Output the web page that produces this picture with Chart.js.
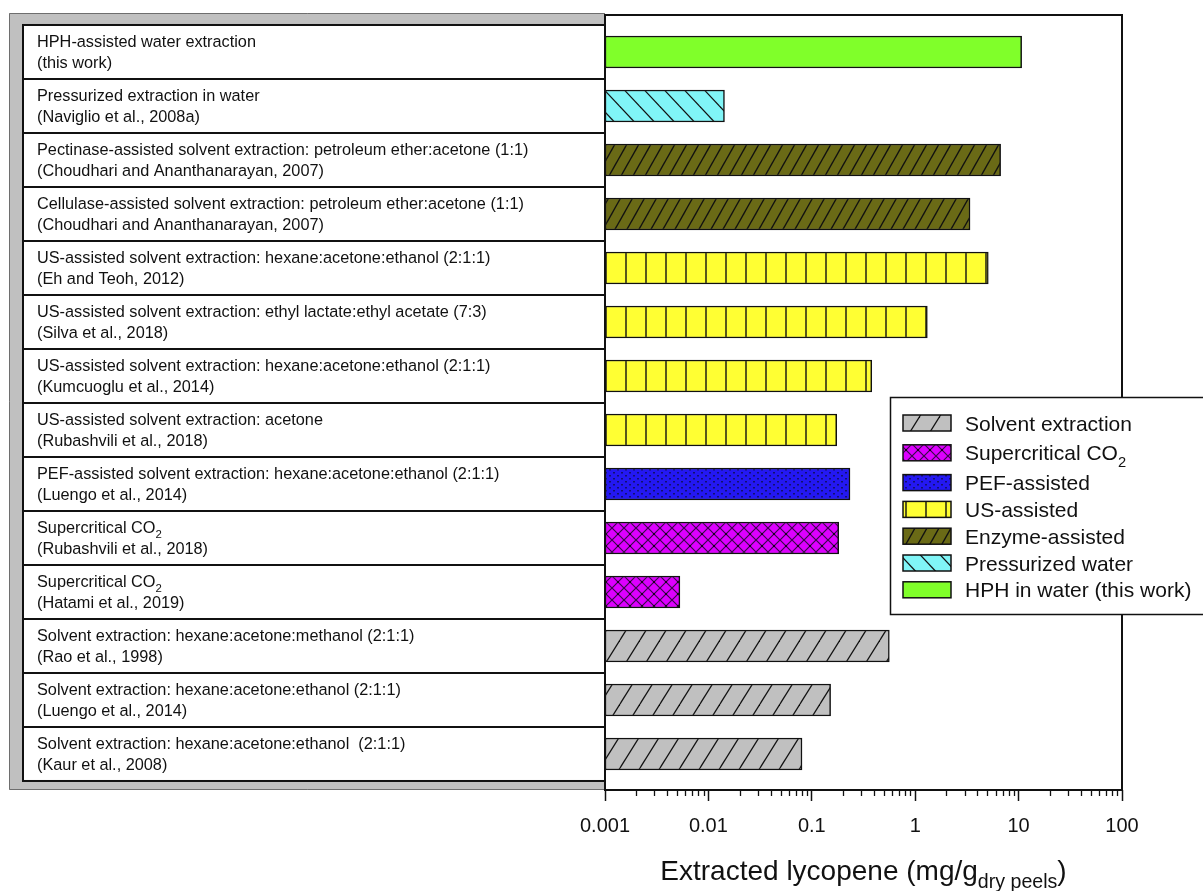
<!DOCTYPE html>
<html>
<head>
<meta charset="utf-8">
<script src="https://cdn.jsdelivr.net/npm/chart.js@4/dist/chart.umd.min.js"></script>
<style>
  html, body { margin: 0; padding: 0; background: #fff; }
  #wrap { width: 1203px; height: 891px; }
</style>
</head>
<body>
<div id="wrap"><canvas id="c" width="1203" height="891"></canvas></div>
<script>
// ---- data ----------------------------------------------------------------
const methods = [
  'HPH-assisted water extraction',
  'Pressurized extraction in water',
  'Pectinase-assisted solvent extraction: petroleum ether:acetone (1:1)',
  'Cellulase-assisted solvent extraction: petroleum ether:acetone (1:1)',
  'US-assisted solvent extraction: hexane:acetone:ethanol (2:1:1)',
  'US-assisted solvent extraction: ethyl lactate:ethyl acetate (7:3)',
  'US-assisted solvent extraction: hexane:acetone:ethanol (2:1:1)',
  'US-assisted solvent extraction: acetone',
  'PEF-assisted solvent extraction: hexane:acetone:ethanol (2:1:1)',
  'Supercritical CO_{2}',
  'Supercritical CO_{2}',
  'Solvent extraction: hexane:acetone:methanol (2:1:1)',
  'Solvent extraction: hexane:acetone:ethanol (2:1:1)',
  'Solvent extraction: hexane:acetone:ethanol  (2:1:1)'
];
const references = [
  '(this work)',
  '(Naviglio et al., 2008a)',
  '(Choudhari and Ananthanarayan, 2007)',
  '(Choudhari and Ananthanarayan, 2007)',
  '(Eh and Teoh, 2012)',
  '(Silva et al., 2018)',
  '(Kumcuoglu et al., 2014)',
  '(Rubashvili et al., 2018)',
  '(Luengo et al., 2014)',
  '(Rubashvili et al., 2018)',
  '(Hatami et al., 2019)',
  '(Rao et al., 1998)',
  '(Luengo et al., 2014)',
  '(Kaur et al., 2008)'
];
// extracted lycopene, mg per g of dry peels
const lycopene = [10.7, 0.0143, 6.7, 3.39, 5.09, 1.31, 0.38, 0.174, 0.234, 0.182, 0.0053, 0.562, 0.152, 0.0804];
const methodGroup = ['hph', 'pw', 'enz', 'enz', 'us', 'us', 'us', 'us', 'pef', 'sc', 'sc', 'sol', 'sol', 'sol'];

const groupKeys = ['sol', 'sc', 'pef', 'us', 'enz', 'pw', 'hph'];
const groupLabels = [
  'Solvent extraction',
  'Supercritical CO_{2}',
  'PEF-assisted',
  'US-assisted',
  'Enzyme-assisted',
  'Pressurized water',
  'HPH in water (this work)'
];

const tickValues = [0.001, 0.01, 0.1, 1, 10, 100];
const tickLabels = ['0.001', '0.01', '0.1', '1', '10', '100'];
const axisTitle = 'Extracted lycopene (mg/g_{dry peels})';

// ---- styling helpers -----------------------------------------------------
const FAMILY = "'Liberation Sans', Arial, Helvetica, sans-serif";
const canvas = document.getElementById('c');
const ctx = canvas.getContext('2d');

function tile(w, h, bg, paint) {
  const c = document.createElement('canvas');
  c.width = w; c.height = h;
  const g = c.getContext('2d');
  g.fillStyle = bg;
  g.fillRect(0, 0, w, h);
  paint(g, w, h);
  return ctx.createPattern(c, 'repeat');
}
// diagonal hatch: spacing p, tile height h, horizontal drift s over h (multiple of p)
function diag(bg, p, h, s, dir, color, lw) {
  return tile(p, h, bg, (g) => {
    g.strokeStyle = color; g.lineWidth = lw; g.lineCap = 'butt';
    for (let x0 = -s - 2 * p; x0 <= 2 * p + s; x0 += p) {
      g.beginPath();
      if (dir > 0) { g.moveTo(x0, h); g.lineTo(x0 + s, 0); }
      else { g.moveTo(x0, 0); g.lineTo(x0 + s, h); }
      g.stroke();
    }
  });
}

const fills = {
  sol: diag('#c0c0c0', 20, 32, 20, 1, '#111', 1.3),
  sc: tile(12, 12, '#dd00ff', (g) => {
    g.strokeStyle = '#3a0a4a'; g.lineWidth = 1.2;
    g.beginPath(); g.moveTo(0, 0); g.lineTo(12, 12); g.moveTo(12, 0); g.lineTo(0, 12); g.stroke();
    g.fillStyle = '#1a0020';
    g.fillRect(5, 5, 2, 2);
  }),
  pef: tile(8, 6, '#2418f2', (g) => {
    g.fillStyle = '#121070';
    g.fillRect(1, 1, 2, 1.5);
    g.fillRect(5, 4, 2, 1.5);
  }),
  us: tile(20, 8, '#ffff33', (g) => {
    g.strokeStyle = '#111'; g.lineWidth = 1.4;
    g.beginPath(); g.moveTo(6, 0); g.lineTo(6, 8); g.stroke();
  }),
  enz: diag('#6a6a16', 12, 64, 36, 1, '#111', 1.3),
  pw: diag('#80f5f7', 20, 64, 60, -1, '#111', 1.3),
  hph: '#80ff2a'
};

// ---- rich text (subscripts written as _{...}) ----------------------------
function parseRich(s) {
  const out = []; const re = /_\{([^}]*)\}/g; let last = 0, m;
  while ((m = re.exec(s))) {
    if (m.index > last) out.push({ t: s.slice(last, m.index), sub: false });
    out.push({ t: m[1], sub: true });
    last = re.lastIndex;
  }
  if (last < s.length) out.push({ t: s.slice(last), sub: false });
  return out;
}
function drawRich(g, s, x, y, size, align) {
  const segs = parseRich(s);
  let total = 0;
  segs.forEach((sg) => {
    g.font = (sg.sub ? size * 0.7 : size) + 'px ' + FAMILY;
    sg.w = g.measureText(sg.t).width; total += sg.w;
  });
  let cx = align === 'center' ? x - total / 2 : x;
  g.textAlign = 'left'; g.textBaseline = 'alphabetic';
  segs.forEach((sg) => {
    g.font = (sg.sub ? size * 0.7 : size) + 'px ' + FAMILY;
    g.fillText(sg.t, cx, y + (sg.sub ? size * 0.3 : 0));
    cx += sg.w;
  });
}

// ---- datasets: one per extraction type, bars overlaid on their own rows ----
const datasets = groupKeys.map((key, gi) => ({
  label: groupLabels[gi],
  data: lycopene
    .map((v, i) => ({ x: v, y: i, k: methodGroup[i] }))
    .filter((d) => d.k === key)
    .map((d) => ({ x: d.x, y: d.y })),
  backgroundColor: fills[key],
  borderColor: '#111',
  borderWidth: 1.5,
  borderSkipped: false,
  barThickness: 32,
  grouped: false
}));

// ---- plugins -------------------------------------------------------------
const tablePanel = {
  id: 'tablePanel',
  beforeDraw(chart) {
    const g = chart.ctx; const a = chart.chartArea; const ys = chart.scales.y;
    g.save();
    g.fillStyle = '#fff'; g.fillRect(0, 0, chart.width, chart.height);
    // grey frame round the label table
    g.fillStyle = '#c0c0c0';
    g.fillRect(9, 13, a.left - 9, 777);
    g.strokeStyle = '#6e6e6e'; g.lineWidth = 1;
    g.beginPath();
    g.moveTo(a.left, 13.5); g.lineTo(9.5, 13.5); g.lineTo(9.5, 789.5); g.lineTo(a.left, 789.5);
    g.stroke();
    const top = ys.getPixelForValue(-0.5);
    const bottom = ys.getPixelForValue(methods.length - 0.5);
    g.fillStyle = '#fff';
    g.fillRect(23, top, a.left - 23, bottom - top);
    g.strokeStyle = '#111'; g.lineWidth = 2;
    g.strokeRect(23, top, a.left - 23, bottom - top);
    g.fillStyle = '#111';
    methods.forEach((m, i) => {
      const y0 = ys.getPixelForValue(i - 0.5);
      const y1 = ys.getPixelForValue(i + 0.5);
      if (i > 0) {
        g.beginPath(); g.moveTo(23, y0); g.lineTo(a.left, y0); g.stroke();
      }
      const c = (y0 + y1) / 2;
      drawRich(g, m, 37, c - 4.5, 16.3, 'left');
      drawRich(g, references[i], 37, c + 16.3, 16.3, 'left');
    });
    g.restore();
  },
  afterDraw(chart) {
    const g = chart.ctx; const a = chart.chartArea; const xs = chart.scales.x;
    g.save();
    // plot frame
    g.strokeStyle = '#111'; g.lineWidth = 2;
    g.strokeRect(a.left, a.top, a.right - a.left, a.bottom - a.top);
    // minor log ticks
    g.lineWidth = 1.3;
    for (let d = 0; d < tickValues.length - 1; d++) {
      for (let m = 2; m <= 9; m++) {
        const px = Math.round(xs.getPixelForValue(tickValues[d] * m)) + 0.5;
        g.beginPath(); g.moveTo(px, a.bottom); g.lineTo(px, a.bottom + 6); g.stroke();
      }
    }
    // axis title
    g.fillStyle = '#111';
    drawRich(g, axisTitle, (a.left + a.right) / 2, 880, 28, 'center');
    // legend
    const lx = 890.5, ly = 397.5;
    g.fillStyle = '#fff';
    g.fillRect(lx, ly, 330, 217);
    g.strokeStyle = '#111'; g.lineWidth = 1.5;
    g.strokeRect(lx, ly, 330, 217);
    let y = 423;
    chart.data.datasets.forEach((ds) => {
      const hasSub = ds.label.indexOf('_{') >= 0;
      if (hasSub) y += 3;
      g.fillStyle = ds.backgroundColor;
      g.fillRect(903, y - 8, 48, 16);
      g.strokeStyle = '#111'; g.lineWidth = 1.5;
      g.strokeRect(903, y - 8, 48, 16);
      g.fillStyle = '#111';
      drawRich(g, ds.label, 965, y + 7.5, 21, 'left');
      if (hasSub) y += 3;
      y += 26.8;
    });
    g.restore();
  }
};

new Chart(ctx, {
  type: 'bar',
  data: { datasets },
  options: {
    indexAxis: 'y',
    responsive: false,
    animation: false,
    layout: { padding: { left: 605, right: 81, top: 15, bottom: 0 } },
    plugins: { legend: { display: false }, tooltip: { enabled: false } },
    scales: {
      x: {
        type: 'logarithmic',
        min: tickValues[0],
        max: tickValues[tickValues.length - 1],
        afterBuildTicks(s) { s.ticks = tickValues.map((v) => ({ value: v })); },
        afterFit(s) { s.height = 101; },
        ticks: {
          callback: (v, i) => tickLabels[i],
          font: { size: 20, family: FAMILY },
          color: '#111',
          padding: 13,
          maxRotation: 0,
          autoSkip: false
        },
        grid: { display: true, drawOnChartArea: false, drawTicks: true, tickLength: 11, tickColor: '#111', tickWidth: 1.5 },
        border: { display: false }
      },
      y: { type: 'linear', min: -0.685, max: 13.667, reverse: true, offset: false, display: false }
    }
  },
  plugins: [tablePanel]
});
</script>
</body>
</html>
